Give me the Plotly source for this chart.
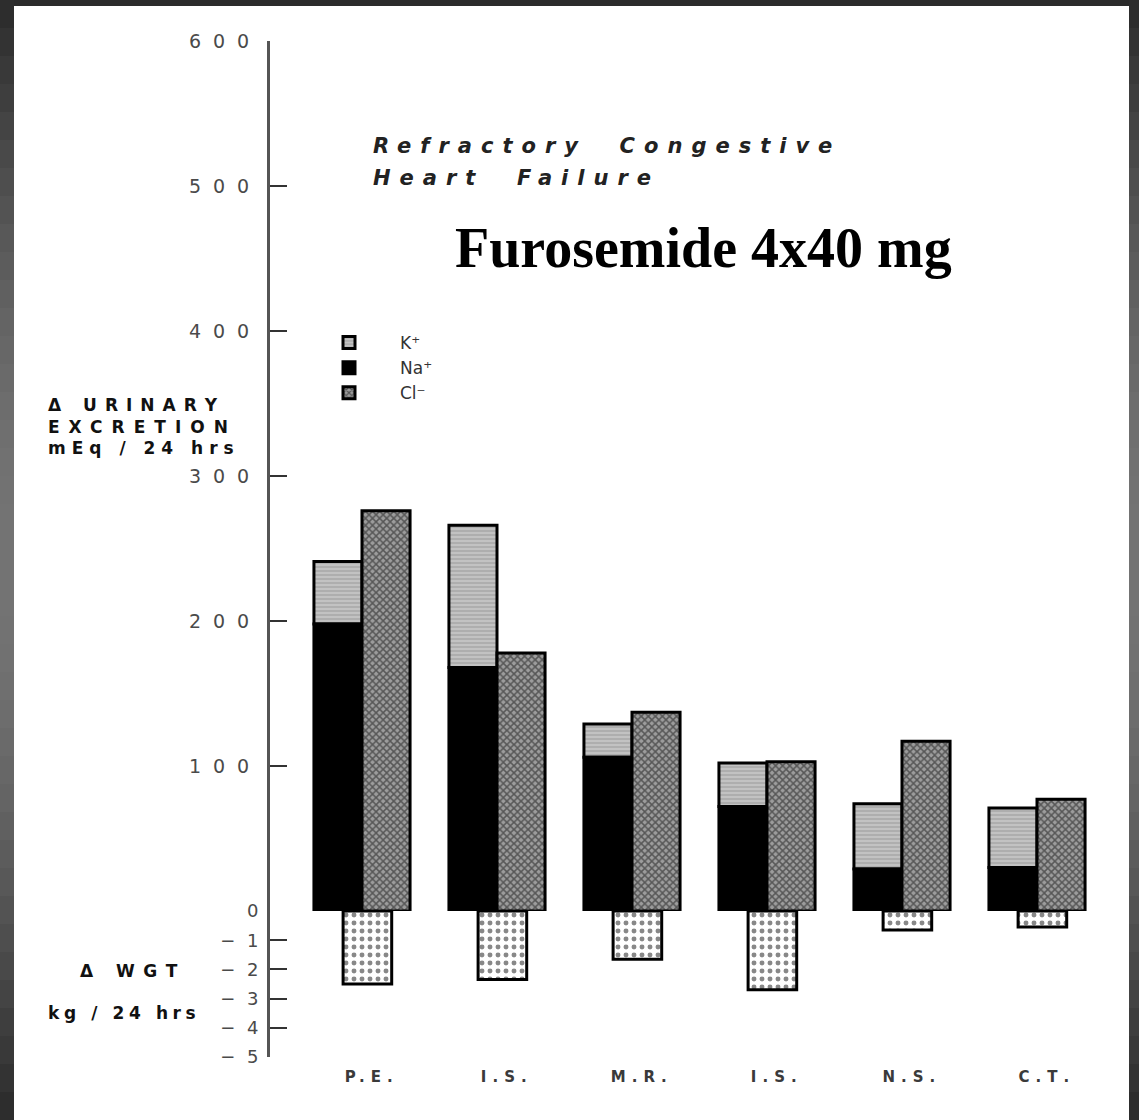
import math
import plotly.graph_objects as go

# ---------------- data ----------------
categories = ["P.E.", "I.S.", "M.R.", "I.S.", "N.S.", "C.T."]
na_values = [198, 168, 106, 72, 29, 30]        # mEq/24 hrs, black segment
k_values = [43, 98, 23, 30, 45, 41]            # mEq/24 hrs, grey segment on top of Na
cl_values = [276, 178, 137, 103, 117, 77]      # mEq/24 hrs, hatched bar
wgt_values = [-2.5, -2.35, -1.65, -2.7, -0.65, -0.55]  # kg/24 hrs, dotted bar
upper_ticks = [100, 200, 300, 400, 500, 600]
lower_ticks = [0, -1, -2, -3, -4, -5]
lower_ticktext = ["0", "\u2212 1", "\u2212 2", "\u2212 3", "\u2212 4", "\u2212 5"]
legend_labels = ["K\u207a", "Na\u207a", "Cl\u207b"]
left_label_lines = ["\u0394 URINARY", "EXCRETION", "mEq / 24 hrs"]

# ---------------- geometry ----------------
W, H = 1139, 1120
L, R, T, B = 270, 10, 41, 63
PW = W - L - R
PH = H - T - B


def px(xp):
    return (xp - L) / PW


def py(yp):
    return (H - B - yp) / PH


split = py(911)
pos = list(range(len(categories)))
bw = 0.356
x0 = -(362 - L) / 135.0
x1 = x0 + PW / 135.0


def sp(text, ls):
    """letter-spaced text, no trailing space after the last character"""
    if len(text) < 2:
        return text
    return '<span style="letter-spacing:%spx">%s</span>%s' % (ls, text[:-1], text[-1])


fig = go.Figure()

fig.add_trace(go.Bar(
    x=pos, y=k_values, base=na_values, offset=-bw, width=bw,
    name=legend_labels[0], xaxis="x", yaxis="y",
    marker=dict(color="#b4b4b4",
                pattern=dict(shape="-", fgcolor="#888888", bgcolor="#c2c2c2", size=4, solidity=0.35),
                line=dict(color="black", width=3)),
))
fig.add_trace(go.Bar(
    x=pos, y=na_values, offset=-bw, width=bw,
    name=legend_labels[1], xaxis="x", yaxis="y",
    marker=dict(color="black", line=dict(color="black", width=3)),
))
fig.add_trace(go.Bar(
    x=pos, y=cl_values, offset=0, width=bw,
    name=legend_labels[2], xaxis="x", yaxis="y",
    marker=dict(color="#5e5e5e",
                pattern=dict(shape="x", fgcolor="#111111", bgcolor="#9c9c9c", size=5, solidity=0.5),
                line=dict(color="black", width=3)),
))
fig.add_trace(go.Bar(
    x=pos, y=wgt_values, offset=-0.14, width=0.36,
    showlegend=False, xaxis="x", yaxis="y2",
    marker=dict(color="white",
                pattern=dict(shape=".", fgcolor="#111111", bgcolor="white", size=8, solidity=0.3),
                line=dict(color="black", width=3)),
))

fig.update_layout(
    width=W, height=H,
    margin=dict(l=L, r=R, t=T, b=B, pad=0),
    paper_bgcolor="#2b2b2b",
    plot_bgcolor="white",
    barmode="overlay",
    showlegend=True,
    legend=dict(x=px(298), y=py(325), xanchor="left", yanchor="top",
                bgcolor="rgba(0,0,0,0)", itemwidth=92,
                font=dict(family="DejaVu Sans", size=17, color="#333333"),
                tracegroupgap=0, itemclick=False),
    xaxis=dict(domain=[0, 1], range=[x0, x1], anchor="y2",
               tickvals=[p + 0.05 for p in pos],
               ticktext=[sp(c, 6) for c in categories],
               ticks="", showline=False, showgrid=False, zeroline=False,
               tickfont=dict(family="DejaVu Sans", size=15, color="#3a3a3a", weight="bold"),
               ticklabelstandoff=9),
    xaxis2=dict(domain=[0, 1], range=[x0, x1], anchor="y", overlaying="x",
                showline=True, linecolor="#555555", linewidth=3,
                tickmode="array", tickvals=[], ticktext=[],
                ticks="", showticklabels=False, showgrid=False, zeroline=False),
    yaxis=dict(domain=[split, 1], range=[0, 600], anchor="x",
               tickvals=upper_ticks, ticktext=[sp(str(v), 12) for v in upper_ticks],
               showline=True, linecolor="#555555", linewidth=3,
               ticks="inside", ticklen=17, tickwidth=2, tickcolor="#333333",
               showgrid=False, zeroline=False,
               tickfont=dict(family="DejaVu Sans", size=19, color="#4a4a4a"),
               ticklabelstandoff=14),
    yaxis2=dict(domain=[0, split], range=[-5, 0], anchor="x",
                tickvals=lower_ticks, ticktext=[sp(t, 3) for t in lower_ticktext],
                showline=True, linecolor="#555555", linewidth=3,
                ticks="inside", ticklen=17, tickwidth=2, tickcolor="#333333",
                showgrid=False, zeroline=False,
                tickfont=dict(family="DejaVu Sans", size=18, color="#4a4a4a"),
                ticklabelstandoff=5),
)

# ---------------- background: dark frame with grey gradient on the sides ----------------
shapes = []
n = 40
for i in range(n):
    ya, yb = H * i / n, H * (i + 1) / n
    t = (i + 0.5) / n
    g = int(43 + (116 - 43) * math.sin(math.pi * t))
    col = "rgb(%d,%d,%d)" % (g, g, g)
    for xa, xb in [(0, 14), (1129, W)]:
        shapes.append(dict(type="rect", xref="paper", yref="paper",
                           x0=px(xa), x1=px(xb), y0=py(yb), y1=py(ya),
                           fillcolor=col, line=dict(width=0), layer="below"))
shapes.append(dict(type="rect", xref="paper", yref="paper",
                   x0=px(14), x1=px(1129), y0=py(H), y1=py(6),
                   fillcolor="white", line=dict(width=0), layer="below"))
fig.update_layout(shapes=shapes)

# ---------------- text ----------------
anns = []
lab_font = dict(family="DejaVu Sans", size=17, color="#111111", weight="bold")
for txt, yy, ls in zip(left_label_lines, [405, 427, 448], [8, 9, 6]):
    anns.append(dict(xref="paper", yref="paper", x=px(46), y=py(yy), xanchor="left", yanchor="middle",
                     align="left", showarrow=False, font=lab_font, text=sp(txt, ls)))
anns.append(dict(xref="paper", yref="paper", x=px(78), y=py(971), xanchor="left", yanchor="middle",
                 showarrow=False, font=lab_font, text=sp("\u0394 WGT", 8.5)))
anns.append(dict(xref="paper", yref="paper", x=px(46), y=py(1013), xanchor="left", yanchor="middle",
                 showarrow=False, font=lab_font, text=sp("kg / 24 hrs", 4.6)))
title_font = dict(family="DejaVu Sans", size=21, color="#222222", weight="bold", style="italic")
anns.append(dict(xref="paper", yref="paper", x=px(371), y=py(146), xanchor="left", yanchor="middle",
                 showarrow=False, font=title_font,
                 text=sp("Refractory\u00a0 Congestive", 9)))
anns.append(dict(xref="paper", yref="paper", x=px(371), y=py(178), xanchor="left", yanchor="middle",
                 showarrow=False, font=title_font,
                 text=sp("Heart\u00a0 Failure", 9)))
anns.append(dict(xref="paper", yref="paper", x=px(453), y=py(248), xanchor="left", yanchor="middle",
                 showarrow=False,
                 font=dict(family="Liberation Serif", size=56, color="black", weight="bold"),
                 text="Furosemide 4x40 mg"))
fig.update_layout(annotations=anns)

fig.write_html("out.html", config={"displayModeBar": False},
               post_script="document.body.style.margin='0px';")
